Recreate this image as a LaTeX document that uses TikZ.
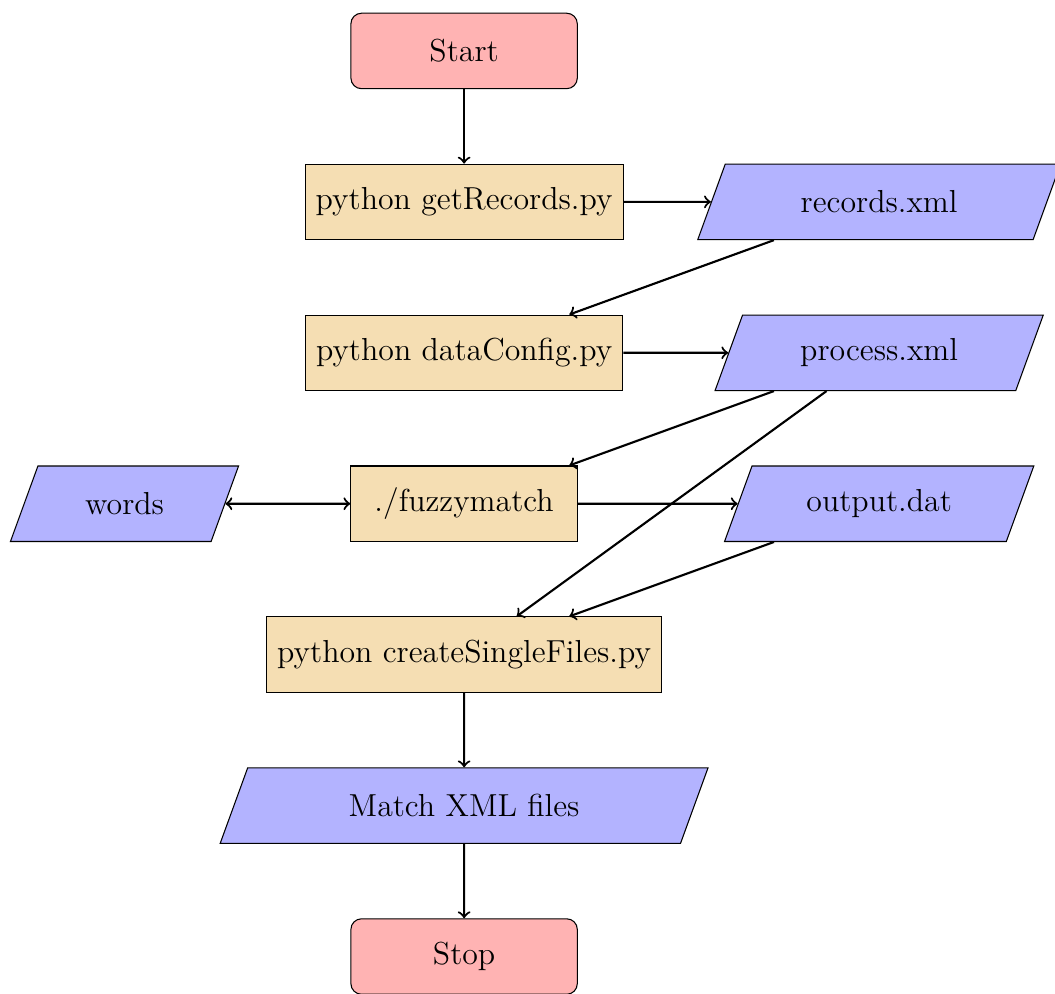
\documentclass[tikz,border=0pt]{standalone}
\usepackage{tikz}
\usetikzlibrary{positioning,shapes.geometric,calc}
\definecolor{stopred}{RGB}{255,179,179}
\definecolor{iofill}{RGB}{179,179,255}
\definecolor{procfill}{RGB}{245,222,179}
\tikzset{
  startstop/.style = {rectangle,rounded corners,minimum width=3cm,
                      minimum height=1cm,draw=black,fill=stopred,
                      font=\large,inner sep=4pt},
  io/.style        = {trapezium,trapezium left angle=70,
                      trapezium right angle=110,minimum width=3cm,
                      minimum height=1cm,draw=black,fill=iofill,
                      font=\large,inner sep=4pt},
  process/.style   = {rectangle,minimum width=3cm,minimum height=1cm,
                      draw=black,fill=procfill,font=\large,inner sep=4pt},
  arrow/.style     = {thick,->},
}

\begin{document}
\begin{tikzpicture}[node distance=2cm]
  \useasboundingbox (-6.15,-12.49) rectangle (7.83,0.675);
  % main column
  \node[startstop] (start) {Start};
  \node[process,below of=start] (pro1) {python getRecords.py};
  \node[process,below of=pro1] (pro2) {python dataConfig.py};
  \node[process,below of=pro2] (pro3) {./fuzzymatch};
  \node[process,below of=pro3] (pro4) {python createSingleFiles.py};
  \node[io,below of=pro4] (io4) {Match XML files};
  \node[startstop,below of=io4] (stop) {Stop};
  % data files
  \node[io] (io1) at ($(pro1)+(5.5,0)$) {records.xml};
  \node[io] (io2) at ($(pro2)+(5.5,0)$) {process.xml};
  \node[io] (io3) at ($(pro3)+(5.5,0)$) {output.dat};
  \node[io] (words) at ($(pro3)+(-4.5,0)$) {words};

  \draw[arrow] (start) -- (pro1);
  \draw[arrow] (pro1) -- (io1);
  \draw[arrow] (io1) -- (pro2);
  \draw[arrow] (pro2) -- (io2);
  \draw[arrow] (io2) -- (pro3);
  \draw[arrow,<->] (words) -- (pro3);
  \draw[arrow] (pro3) -- (io3);
  \draw[arrow] (io2) -- (pro4);
  \draw[arrow] (io3) -- (pro4);
  \draw[arrow] (pro4) -- (io4);
  \draw[arrow] (io4) -- (stop);
\end{tikzpicture}
\end{document}
